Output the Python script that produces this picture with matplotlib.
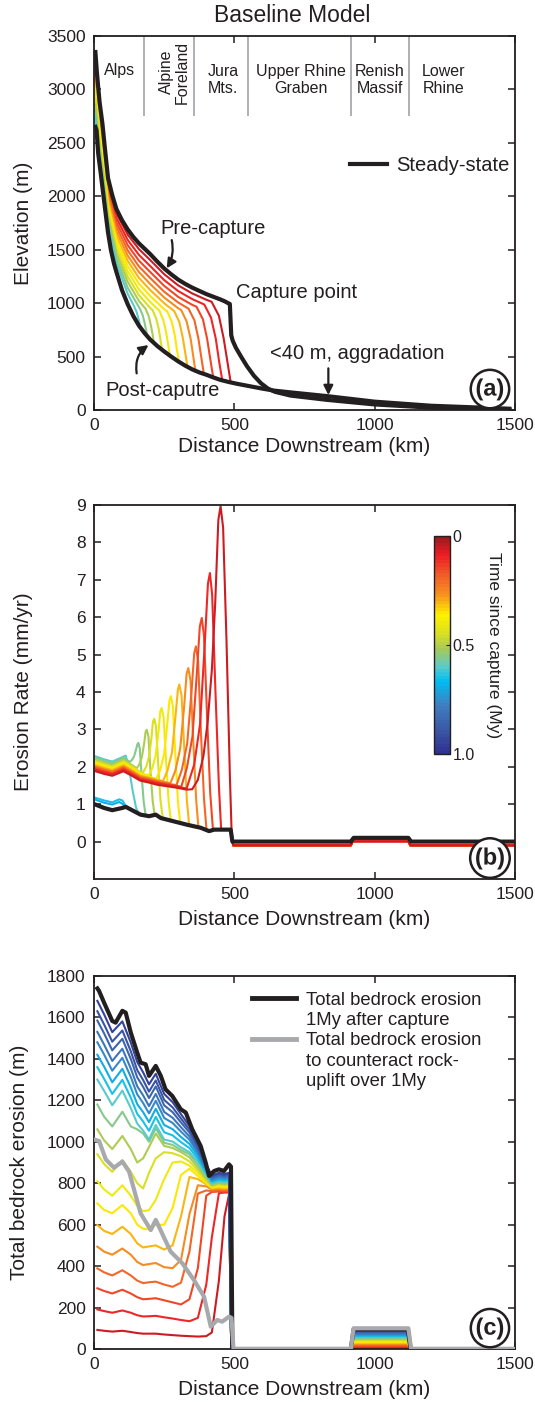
import matplotlib
matplotlib.use("Agg")
import matplotlib.pyplot as plt
from matplotlib.lines import Line2D
from matplotlib.colors import Normalize, LinearSegmentedColormap
from matplotlib.cm import ScalarMappable
import matplotlib.patheffects as pe

plt.rcParams['font.family'] = ['Liberation Sans', 'DejaVu Sans']
ink = '#231f20'
grey = '#a7a9ac'

# ---------------- (a) river long profiles ----------------
pre_x = [5, 10, 15, 20, 30, 40, 50, 65, 80, 100, 120, 140, 160, 180, 200, 225, 250, 275, 300, 325,
         350, 375, 400, 425, 450, 465, 478, 484, 489, 494, 505, 525, 545, 570, 595, 620, 645, 700,
         830, 1000, 1200, 1480]
pre_z = [3350, 3170, 3020, 2880, 2680, 2420, 2170, 2010, 1880, 1775, 1690, 1620, 1560, 1510, 1460,
         1390, 1325, 1270, 1220, 1180, 1145, 1115, 1085, 1060, 1035, 1018, 1000, 992, 700, 650, 585,
         495, 410, 320, 250, 200, 170, 135, 95, 52, 22, 3]
post_x = [5, 9, 15, 24, 30, 40, 50, 60, 71, 80, 100, 120, 140, 160, 180, 200, 225, 250, 275, 300,
          325, 350, 375, 400, 425, 450, 480, 510, 550, 600, 640, 700, 830, 1000, 1200, 1480]
post_z = [2650, 2620, 2400, 2215, 2085, 1870, 1660, 1500, 1372, 1290, 1120, 990, 880, 790, 720, 660,
          600, 548, 500, 455, 415, 380, 352, 330, 305, 282, 262, 245, 225, 200, 182, 165, 130, 78,
          40, 12]

regions = ['Alps', 'Alpine\nForeland', 'Jura\nMts.', 'Upper Rhine\nGraben', 'Renish\nMassif',
           'Lower\nRhine']
region_x = [92, 287, 460, 737, 1019, 1246]
region_y = [3175, 3163, 3088, 3088, 3088, 3088]
region_edges = [178, 357, 548, 917, 1124]

# transient profiles every 0.05 My after capture
prof_t = [0.05, 0.10, 0.15, 0.20, 0.25, 0.30, 0.35, 0.40, 0.45, 0.50, 0.55, 0.60]
prof_x = [
    [5, 15, 30, 50, 80, 120, 160, 200, 250, 300, 350, 400, 419, 445, 462, 475, 484, 487],
    [5, 15, 30, 50, 80, 120, 160, 200, 250, 300, 350, 393, 417, 434, 445, 454, 457],
    [5, 15, 30, 50, 80, 120, 160, 200, 250, 300, 350, 365, 388, 403, 414, 422, 425],
    [5, 15, 30, 50, 80, 120, 160, 200, 250, 300, 337, 358, 372, 382, 389, 392],
    [5, 15, 30, 50, 80, 120, 160, 200, 250, 300, 311, 330, 344, 353, 359, 362],
    [5, 15, 30, 50, 80, 120, 160, 200, 250, 286, 304, 316, 325, 331, 333],
    [5, 15, 30, 50, 80, 120, 160, 200, 250, 261, 277, 288, 295, 301, 303],
    [5, 15, 30, 50, 80, 120, 160, 200, 233, 247, 257, 264, 269, 271],
    [5, 15, 30, 50, 80, 120, 160, 200, 209, 222, 231, 237, 241, 243],
    [5, 15, 30, 50, 80, 120, 160, 184, 195, 203, 209, 212, 214],
    [5, 15, 30, 50, 80, 120, 163, 173, 180, 185, 189, 190],
    [5, 15, 30, 50, 80, 120, 143, 152, 158, 162, 165, 166],
]
prof_z = [
    [3301, 2977, 2638, 2134, 1839, 1641, 1506, 1404, 1271, 1166, 1091, 1032, 1013, 882, 670, 457, 308, 259],
    [3252, 2933, 2597, 2099, 1797, 1592, 1452, 1348, 1216, 1113, 1038, 987, 864, 666, 468, 325, 278],
    [3203, 2890, 2555, 2063, 1756, 1543, 1398, 1292, 1162, 1059, 984, 967, 849, 667, 482, 350, 305],
    [3154, 2846, 2513, 2027, 1715, 1494, 1344, 1236, 1107, 1006, 948, 838, 668, 498, 378, 337],
    [3105, 2803, 2472, 1992, 1674, 1445, 1291, 1180, 1053, 952, 934, 829, 671, 515, 404, 366],
    [3056, 2760, 2430, 1956, 1632, 1396, 1237, 1124, 999, 925, 824, 681, 537, 438, 404],
    [3007, 2716, 2388, 1920, 1591, 1347, 1183, 1068, 944, 922, 827, 698, 571, 481, 450],
    [2958, 2673, 2347, 1884, 1550, 1298, 1129, 1012, 929, 842, 729, 615, 535, 508],
    [2909, 2629, 2305, 1849, 1508, 1249, 1075, 956, 933, 852, 753, 654, 586, 562],
    [2860, 2586, 2264, 1813, 1467, 1200, 1021, 946, 878, 788, 705, 647, 626],
    [2804, 2536, 2216, 1772, 1420, 1144, 950, 891, 819, 754, 705, 690],
    [2748, 2487, 2168, 1731, 1373, 1088, 970, 916, 859, 813, 780, 770],
]

# ---------------- (b) erosion rate ----------------
rate_black_x = [5, 36, 65, 101, 113, 143, 166, 196, 220, 238, 285, 332, 380, 410, 428, 463, 487,
                493, 915, 925, 1120, 1130, 1500]
rate_black_y = [0.99, 0.90, 0.84, 0.90, 0.93, 0.81, 0.72, 0.68, 0.72, 0.63, 0.54, 0.45, 0.37, 0.28,
                0.32, 0.32, 0.32, 0.0, 0.0, 0.1, 0.1, 0.0, 0.0]
rate_t = [0.05, 0.10, 0.15, 0.20, 0.25, 0.30, 0.35, 0.40, 0.45, 0.50, 0.55, 0.60, 0.65, 0.70]
rate_x = [
    [5, 36, 65, 105, 135, 165, 195, 225, 260, 295, 330, 350, 370, 390, 405, 420, 432, 443, 451, 460, 472, 484, 490],
    [5, 36, 65, 105, 135, 165, 195, 225, 260, 295, 330, 357, 378, 394, 406, 413, 421, 433, 445, 453],
    [5, 36, 65, 105, 135, 165, 195, 225, 260, 295, 311, 331, 351, 366, 377, 384, 392, 403, 414, 424],
    [5, 36, 65, 105, 135, 165, 195, 225, 260, 294, 313, 332, 347, 357, 363, 371, 381, 392, 401],
    [5, 36, 65, 105, 135, 165, 195, 225, 260, 272, 290, 307, 321, 330, 336, 344, 354, 364, 372],
    [5, 36, 65, 105, 135, 165, 195, 225, 246, 262, 278, 290, 299, 304, 312, 322, 331, 339],
    [5, 36, 65, 105, 135, 165, 195, 222, 236, 250, 261, 269, 274, 281, 290, 299, 307],
    [5, 36, 65, 105, 135, 165, 195, 208, 220, 230, 236, 241, 248, 257, 266, 274],
    [5, 36, 65, 105, 135, 165, 174, 186, 196, 205, 210, 215, 221, 229, 237, 245],
    [5, 36, 65, 105, 135, 152, 162, 171, 179, 184, 188, 194, 201, 209, 216],
    [5, 36, 65, 105, 128, 136, 143, 150, 155, 158, 163, 170, 177, 184],
    [5, 36, 65, 90, 113, 125, 138, 150, 160],
    [5, 36, 65, 90, 101, 115],
    [5, 36, 65, 90, 101, 113],
]
rate_y = [
    [1.88, 1.81, 1.76, 1.88, 1.76, 1.63, 1.58, 1.52, 1.48, 1.44, 1.39, 1.40, 1.65, 2.29, 3.20, 4.60, 6.40, 8.60, 8.97, 8.40, 5.40, 1.80, 0.32],
    [1.92, 1.85, 1.80, 1.92, 1.80, 1.66, 1.61, 1.56, 1.51, 1.47, 1.42, 2.06, 3.15, 5.20, 6.90, 7.18, 6.60, 3.96, 1.49, 0.32],
    [1.95, 1.88, 1.82, 1.95, 1.82, 1.69, 1.64, 1.58, 1.53, 1.49, 1.47, 1.97, 2.82, 4.45, 5.75, 5.98, 5.50, 3.33, 1.31, 0.30],
    [1.98, 1.91, 1.85, 1.98, 1.85, 1.71, 1.66, 1.60, 1.55, 1.51, 1.92, 2.62, 3.96, 5.03, 5.22, 4.83, 2.91, 1.14, 0.30],
    [2.01, 1.94, 1.88, 2.01, 1.88, 1.74, 1.69, 1.63, 1.58, 1.56, 1.90, 2.48, 3.59, 4.49, 4.64, 4.30, 2.65, 1.12, 0.38],
    [2.04, 1.97, 1.91, 2.04, 1.91, 1.76, 1.71, 1.65, 1.62, 1.90, 2.39, 3.32, 4.07, 4.20, 3.90, 2.44, 1.09, 0.45],
    [2.07, 2.00, 1.94, 2.07, 1.94, 1.79, 1.74, 1.68, 1.92, 2.34, 3.14, 3.78, 3.89, 3.62, 2.30, 1.08, 0.50],
    [2.11, 2.04, 1.97, 2.11, 1.97, 1.83, 1.77, 1.97, 2.31, 2.96, 3.48, 3.57, 3.33, 2.15, 1.06, 0.55],
    [2.15, 2.07, 2.01, 2.15, 2.01, 1.86, 1.84, 2.00, 2.27, 2.79, 3.21, 3.28, 3.07, 2.04, 1.10, 0.63],
    [2.19, 2.11, 2.05, 2.19, 2.05, 1.96, 2.07, 2.27, 2.64, 2.94, 2.99, 2.81, 1.91, 1.09, 0.71],
    [2.24, 2.16, 2.09, 2.24, 2.13, 2.19, 2.28, 2.47, 2.61, 2.64, 2.49, 1.75, 1.07, 0.70],
    [2.28, 2.20, 2.14, 2.22, 2.30, 1.95, 1.35, 0.90, 0.74],
    [1.17, 1.10, 1.05, 1.13, 1.10, 0.93],
    [1.12, 1.04, 0.99, 1.06, 1.01, 0.93],
]
rate_bump = [0.0, 0.01, 0.01, 0.02, 0.02, 0.03, 0.03, 0.04, 0.04, 0.05, 0.05, 0.06, 0.06, 0.07]
rate_right_x = [496, 915, 922, 1120, 1127, 1500]
rate_aggr = -0.1

# ---------------- (c) cumulative erosion ----------------
tot_black_x = [12, 18, 36, 65, 77, 101, 113, 131, 154, 166, 184, 196, 220, 238, 255, 279, 309, 327,
               350, 380, 398, 410, 428, 445, 463, 481, 488, 493, 915, 925, 1118, 1128, 1500]
tot_black_y = [1740, 1728, 1671, 1583, 1575, 1632, 1623, 1527, 1430, 1382, 1374, 1318, 1366, 1318,
               1253, 1221, 1157, 1141, 1060, 980, 899, 835, 859, 867, 859, 891, 880, 0, 0, 95, 95, 0, 0]
uplift_x = [5, 18, 42, 71, 101, 125, 166, 202, 220, 273, 315, 356, 392, 416, 439, 457, 481, 490,
            497, 915, 925, 1120, 1130, 1500]
uplift_y = [1009, 1004, 915, 875, 904, 856, 655, 574, 623, 470, 413, 333, 253, 108, 140, 132, 156,
            150, 0, 0, 100, 100, 0, 0]
tot_x = [12, 36, 65, 101, 131, 154, 175, 196, 220, 250, 280, 310, 340, 370, 400, 420, 445, 465, 481]
tot_t = [0.05, 0.10, 0.15, 0.20, 0.25, 0.30, 0.35, 0.40, 0.45, 0.50, 0.55, 0.60, 0.65, 0.70, 0.75,
         0.80, 0.85, 0.90, 0.95]
tot_y = [
    [92, 88, 84, 88, 82, 77, 74, 74, 74, 70, 67, 64, 62, 60, 62, 80, 330, 640, 745],
    [191, 183, 175, 186, 175, 163, 157, 158, 160, 153, 147, 140, 134, 150, 310, 540, 752, 755, 755],
    [293, 280, 268, 286, 268, 250, 240, 242, 245, 235, 225, 215, 240, 390, 740, 758, 760, 760, 760],
    [389, 370, 355, 380, 355, 330, 318, 322, 325, 311, 300, 320, 470, 750, 765, 762, 766, 765, 766],
    [494, 470, 455, 485, 455, 420, 405, 410, 415, 395, 390, 430, 650, 790, 785, 770, 772, 770, 772],
    [598, 570, 555, 590, 555, 510, 490, 495, 500, 480, 500, 640, 830, 820, 795, 775, 778, 775, 778],
    [703, 671, 655, 695, 655, 600, 580, 578, 598, 600, 680, 840, 870, 835, 800, 778, 785, 780, 785],
    [810, 770, 740, 790, 740, 690, 665, 670, 720, 820, 900, 905, 885, 850, 805, 782, 790, 785, 790],
    [940, 893, 855, 912, 855, 800, 775, 850, 920, 950, 945, 930, 905, 862, 812, 785, 795, 790, 795],
    [1060, 1007, 965, 1028, 965, 900, 920, 975, 1040, 980, 970, 950, 925, 875, 822, 790, 800, 795, 800],
    [1180, 1121, 1074, 1145, 1074, 1060, 1040, 1000, 1065, 995, 985, 960, 940, 890, 832, 795, 805, 800, 805],
    [1300, 1246, 1176, 1247, 1163, 1088, 1054, 1011, 1081, 1011, 1001, 973, 950, 904, 842, 800, 810, 806, 810],
    [1360, 1304, 1231, 1299, 1213, 1135, 1098, 1053, 1120, 1046, 1031, 998, 970, 918, 850, 806, 816, 812, 816],
    [1420, 1363, 1287, 1352, 1263, 1182, 1143, 1095, 1159, 1081, 1061, 1023, 990, 932, 857, 812, 822, 818, 822],
    [1480, 1421, 1343, 1405, 1313, 1229, 1187, 1137, 1198, 1115, 1091, 1049, 1010, 946, 864, 817, 828, 824, 828],
    [1530, 1469, 1390, 1449, 1354, 1268, 1224, 1172, 1231, 1144, 1116, 1070, 1026, 957, 870, 822, 835, 830, 834],
    [1585, 1523, 1441, 1497, 1400, 1311, 1265, 1211, 1267, 1176, 1143, 1093, 1045, 970, 877, 828, 840, 835, 840],
    [1630, 1566, 1483, 1537, 1437, 1346, 1298, 1242, 1296, 1202, 1166, 1112, 1059, 980, 882, 833, 845, 840, 845],
    [1680, 1615, 1529, 1581, 1479, 1385, 1335, 1277, 1328, 1231, 1191, 1133, 1076, 992, 888, 838, 850, 845, 850],
]
tot_bump = [5, 10, 14, 19, 24, 29, 33, 38, 43, 48, 52, 57, 62, 67, 71, 76, 81, 86, 90]
tot_right_x = [489, 915, 925, 1118, 1128, 1500]

# time colour scale (printed-jet look, 0 = red, 1 My = dark blue)
cmap_stops = [0.0, 0.08, 0.17, 0.27, 0.36, 0.45, 0.52, 0.60, 0.67, 0.78, 0.90, 1.0]
cmap_cols = ['#9b1b1e', '#ed1c24', '#f15a29', '#f7941d', '#fff200', '#d7df23', '#a6c85a',
             '#5ecbc8', '#00bdf2', '#3f7fc1', '#3b56a5', '#2e3192']
cmap = LinearSegmentedColormap.from_list('time', list(zip(cmap_stops, cmap_cols)), N=64)

fig = plt.figure(figsize=(5.35, 14.05), dpi=100)
W, H = 535.0, 1405.0


def box(l, t, r, b):
    return [l / W, 1 - b / H, (r - l) / W, (b - t) / H]


ax1 = fig.add_axes(box(94, 36, 515, 410))
ax2 = fig.add_axes(box(94, 505, 515, 879))
ax3 = fig.add_axes(box(94, 976, 515, 1349))


def style(ax, yticks, ylim, ylabel, tag, xlab_y, ylab_x):
    ax.set_xlim(0, 1500)
    ax.set_ylim(*ylim)
    ax.set_xticks([0, 500, 1000, 1500])
    ax.set_yticks(yticks)
    ax.tick_params(direction='in', top=True, right=True, length=5, width=1.1,
                   colors=ink, labelsize=12.5, pad=6)
    for s in ax.spines.values():
        s.set_linewidth(1.3)
        s.set_color(ink)
    ax.set_xlabel('Distance Downstream (km)', fontsize=15, color=ink)
    ax.set_ylabel(ylabel, fontsize=15, color=ink)
    ax.xaxis.set_label_coords(0.5, xlab_y)
    ax.yaxis.set_label_coords(ylab_x, 0.5)
    t = ax.text(0.9405, 0.056, tag, transform=ax.transAxes, ha='center', va='center',
                fontsize=17, fontweight='bold', color=ink, zorder=20,
                bbox=dict(boxstyle='circle,pad=0.2', fc='white', ec=ink, lw=1.8))
    t.set_path_effects([pe.withStroke(linewidth=2.5, foreground='white')])


# ---- (a)
for t, xs, zs in zip(prof_t, prof_x, prof_z):
    ax1.plot(xs, zs, color=cmap(t), lw=1.5, zorder=2)
ax1.plot(pre_x, pre_z, color=ink, lw=3, zorder=3, label='Steady-state', solid_joinstyle='round')
ax1.plot(post_x, post_z, color=ink, lw=3, zorder=3, solid_joinstyle='round')
ax1.vlines(region_edges, 2750, 3500, color=grey, lw=1.3)
for name, x, y in zip(regions, region_x, region_y):
    ax1.text(x, y, name, ha='center', va='center', fontsize=11.5, color=ink,
             rotation=90 if name.startswith('Alpine') else 0, linespacing=1.1)

ax1.text(235, 1694, 'Pre-capture', fontsize=14.5, color=ink, va='center')
ax1.annotate('', xy=(259, 1326), xytext=(277, 1590),
             arrowprops=dict(arrowstyle='-|>', color=ink, lw=1.6, mutation_scale=14,
                             shrinkA=0, shrinkB=0, connectionstyle='arc3,rad=-0.2'))
ax1.text(39, 187, 'Post-caputre', fontsize=14.5, color=ink, va='center')
ax1.annotate('', xy=(194, 608), xytext=(152, 343),
             arrowprops=dict(arrowstyle='-|>', color=ink, lw=1.6, mutation_scale=14,
                             shrinkA=0, shrinkB=0, connectionstyle='arc3,rad=-0.3'))
ax1.text(506, 1098, 'Capture point', fontsize=14.5, color=ink, va='center')
ax1.text(627, 530, '<40 m, aggradation', fontsize=14.5, color=ink, va='center')
ax1.annotate('', xy=(835, 140), xytext=(835, 390),
             arrowprops=dict(arrowstyle='-|>', color=ink, lw=1.6, mutation_scale=14,
                             shrinkA=0, shrinkB=0))
ax1.legend(loc='center left', bbox_to_anchor=(0.608, 0.653), frameon=False, fontsize=14.5,
           handlelength=1.85, handletextpad=0.45, borderpad=0, borderaxespad=0, labelcolor=ink)
style(ax1, range(0, 3501, 500), (0, 3500), 'Elevation (m)', '(a)', -0.072, -0.145)
fig.text(292 / W, 1 - 15 / H, 'Baseline Model', ha='center', va='center', fontsize=16.5, color=ink)

# ---- (b)
for t, xs, ys, hb in list(zip(rate_t, rate_x, rate_y, rate_bump))[::-1]:
    tail = [(x, y) for x, y in zip(rate_black_x, rate_black_y) if xs[-1] < x <= 487]
    xx = list(xs) + [p[0] for p in tail] + rate_right_x
    yy = list(ys) + [p[1] for p in tail] + [rate_aggr, rate_aggr, hb, hb, rate_aggr, rate_aggr]
    ax2.plot(xx, yy, color=cmap(t), lw=1.5, zorder=2)
ax2.plot(rate_black_x, rate_black_y, color=ink, lw=3, zorder=3)
style(ax2, range(0, 10), (-1, 9), 'Erosion Rate (mm/yr)', '(b)', -0.083, -0.145)

cax = fig.add_axes(box(434, 536, 450, 754))
sm = ScalarMappable(norm=Normalize(0, 1), cmap=cmap)
cb = fig.colorbar(sm, cax=cax, ticks=[0, 0.5, 1.0])
cb.ax.invert_yaxis()
cb.ax.set_yticklabels(['0', '0.5', '1.0'])
cb.ax.tick_params(labelsize=11.5, colors=ink, direction='in', length=3, pad=2)
cb.outline.set_edgecolor(ink)
cb.outline.set_linewidth(1.0)
cb.set_label('Time since capture (My)', rotation=270, fontsize=12.5, color=ink, labelpad=19)

# ---- (c)
for t, ys, hb in zip(tot_t, tot_y, tot_bump):
    xx = tot_x + tot_right_x
    yy = list(ys) + [0, 0, hb, hb, 0, 0]
    ax3.plot(xx, yy, color=cmap(t), lw=1.5, zorder=2)
ax3.plot(tot_black_x, tot_black_y, color=ink, lw=3, zorder=3)
ax3.plot(uplift_x, uplift_y, color=grey, lw=3, zorder=4)
blank = Line2D([], [], color='none')
h_black = Line2D([], [], color=ink, lw=3.5)
h_grey = Line2D([], [], color=grey, lw=3.5)
ax3.legend([h_black, blank, h_grey, blank, blank],
           ['Total bedrock erosion', '1My after capture', 'Total bedrock erosion',
            'to counteract rock-', 'uplift over 1My'],
           loc='upper left', bbox_to_anchor=(0.375, 0.958), frameon=False, fontsize=13.3,
           handlelength=2.4, handletextpad=0.55, borderpad=0, borderaxespad=0,
           labelspacing=0.18, labelcolor=ink)
style(ax3, range(0, 1801, 200), (0, 1800), 'Total bedrock erosion (m)', '(c)', -0.083, -0.155)

fig.savefig('out.png', dpi=100)
